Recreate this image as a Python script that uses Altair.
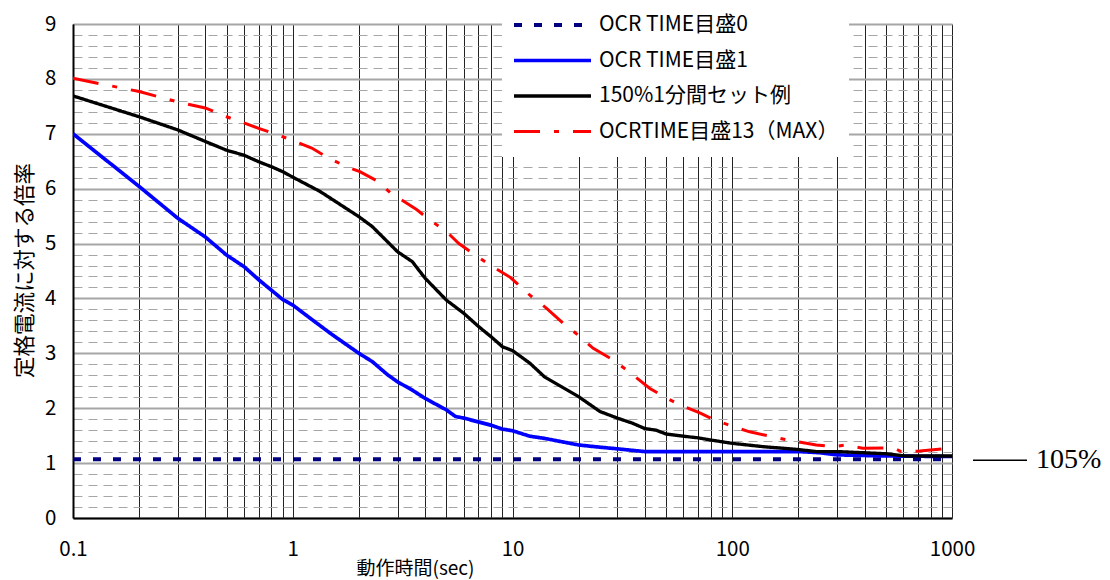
import altair as alt
import pandas as pd

# ---------------- data ----------------
series_names = ["OCR TIME目盛0", "OCR TIME目盛1", "150%1分間セット例", "OCRTIME目盛13（MAX）"]
series_colors = ["#000080", "#0000FF", "#000000", "#FF0000"]

navy_x = [0.1, 1000]
navy_y = [1.07, 1.07]

blue_x = [0.1, 0.2, 0.3, 0.4, 0.5, 0.6, 0.7, 0.8, 0.9, 1.0, 1.2, 1.5, 2.0, 2.3, 2.7, 3.0, 3.5, 4.0,
          5.0, 5.5, 6.0, 8.0, 9.0, 10, 12, 14, 20, 25, 30, 40, 100, 200, 250, 300, 500, 1000]
blue_y = [7.0, 6.04, 5.46, 5.12, 4.79, 4.58, 4.34, 4.15, 3.98, 3.88, 3.64, 3.35, 3.0, 2.85, 2.61, 2.48, 2.33, 2.18,
          1.97, 1.85, 1.82, 1.69, 1.62, 1.59, 1.49, 1.45, 1.33, 1.29, 1.26, 1.21, 1.21, 1.21, 1.19, 1.15, 1.13, 1.12]

black_x = [0.1, 0.2, 0.3, 0.4, 0.5, 0.6, 0.7, 0.8, 0.9, 1.0, 1.33, 2.0, 2.3, 3.0, 3.5, 4.0, 5.0, 6.0, 7.0,
           8.0, 9.0, 10, 12, 14, 20, 25, 30, 35, 40, 45, 50, 60, 70, 80, 100, 138, 197, 241, 301, 392, 504, 612, 1000]
black_y = [7.69, 7.31, 7.07, 6.86, 6.70, 6.61, 6.49, 6.40, 6.31, 6.21, 5.95, 5.49, 5.31, 4.85, 4.67, 4.37, 3.97, 3.73, 3.49,
           3.30, 3.12, 3.05, 2.82, 2.57, 2.21, 1.94, 1.82, 1.73, 1.63, 1.60, 1.53, 1.49, 1.46, 1.42, 1.36, 1.30, 1.25, 1.21, 1.21, 1.19, 1.17, 1.13, 1.13]

red_x = [0.1, 0.2, 0.3, 0.4, 0.5, 0.7, 0.97, 1.22, 1.47, 1.76, 2.02, 2.45, 2.77, 3.66, 4.2, 5.0, 5.7, 6.6, 8.1,
         9.8, 12.0, 14.3, 17.0, 19.5, 23.3, 27.9, 33.0, 42.2, 50.4, 58.0, 71.6, 82.6, 100, 120, 174, 241, 287, 330,
         392, 537, 587, 713, 913, 950]
red_y = [8.01, 7.77, 7.58, 7.47, 7.31, 7.10, 6.90, 6.74, 6.55, 6.40, 6.31, 6.13, 5.93, 5.62, 5.43, 5.22, 5.00, 4.82, 4.58,
         4.38, 4.06, 3.82, 3.55, 3.36, 3.09, 2.91, 2.70, 2.36, 2.18, 2.06, 1.91, 1.79, 1.67, 1.57, 1.43, 1.33, 1.30, 1.33,
         1.27, 1.28, 1.21, 1.22, 1.26, 1.26]

ref_value = 1.05
ref_label = "105%"

x_major = [0.1, 1, 10, 100, 1000]
x_grid = [round(m * d, 4) for d in [0.1, 1, 10, 100] for m in range(1, 10)] + [1000]
y_major = list(range(0, 10))
y_grid = [round(0.2 * i, 1) for i in range(46)]

# ---------------- table ----------------
rows = []
for name, xs, ys in zip(series_names,
                        [navy_x, blue_x, black_x, red_x],
                        [navy_y, blue_y, black_y, red_y]):
    for i, (xv, yv) in enumerate(zip(xs, ys)):
        rows.append({"series": name, "t": xv, "r": yv, "i": i})
df = pd.DataFrame(rows)

WIDTH, HEIGHT = 879, 494
FONT = "Noto Sans CJK JP"

xscale = alt.Scale(type="log", domain=[0.1, 1000], nice=False)
yscale = alt.Scale(domain=[0, 9], nice=False, zero=True)

x_label_expr = "indexof([" + ",".join(str(v) for v in x_major) + "], datum.value) >= 0 ? datum.value + '' : ''"

x_axis = alt.Axis(
    values=x_grid, tickCount=200, labelExpr=x_label_expr, grid=True, gridColor="#222222", gridWidth=1,
    ticks=False, domain=True, domainColor="#000000", domainWidth=2,
    labelFont=FONT, labelFontSize=20.5, labelColor="#000000", labelPadding=21,
    labelFlush=False, labelOverlap=False,
    title="動作時間(sec)", titleFont=FONT, titleFontSize=19, titleFontWeight="normal",
    titleColor="#000000", titleX=342, titleY=50, titleBaseline="middle", titleAnchor="middle",
)

major_test = "datum.value % 1 === 0"
y_axis = alt.Axis(
    values=y_grid, tickCount=200, labelExpr="datum.value % 1 === 0 ? datum.value + '' : ''",
    grid=True, gridColor="#A6A6A6",
    gridDash={"condition": {"test": major_test, "value": []}, "value": [9, 6]},
    gridWidth={"condition": {"test": major_test, "value": 2}, "value": 1},
    ticks=False, domain=True, domainColor="#000000", domainWidth=2,
    labelFont=FONT, labelFontSize=20.5, labelColor="#000000", labelPadding=17,
    labelOverlap=False, labelFlush=False,
    title="定格電流に対する倍率", titleFont=FONT, titleFontSize=21.5, titleFontWeight="normal",
    titleColor="#000000", titleX=-48, titleY=246, titleBaseline="middle", titleAngle=-90,
)

legend = alt.Legend(
    title=None, orient="none", legendX=429, legendY=-24, direction="vertical",
    fillColor="white", padding=10, symbolType="stroke", symbolSize=5929,
    clipHeight=30,
    labelFont=FONT, labelFontSize=21, labelColor="#000000", labelOffset=6,
    rowPadding=5.5, labelLimit=400,
)

lines = alt.Chart(df).mark_line(clip=True).encode(
    x=alt.X("t:Q", scale=xscale, axis=x_axis),
    y=alt.Y("r:Q", scale=yscale, axis=y_axis),
    color=alt.Color("series:N", scale=alt.Scale(domain=series_names, range=series_colors), legend=legend),
    strokeDash=alt.StrokeDash("series:N",
                              scale=alt.Scale(domain=series_names,
                                              range=[[8, 12], [1, 0], [1, 0], [26, 14, 5, 14]]),
                              legend=legend),
    strokeWidth=alt.StrokeWidth("series:N",
                                scale=alt.Scale(domain=series_names, range=[4, 3, 3.5, 5]),
                                legend=legend),
    order="i:Q",
)

ref_df = pd.DataFrame({"r": [ref_value], "label": [ref_label]})
ref_rule = alt.Chart(ref_df).mark_rule(color="#000000", strokeWidth=1.5).encode(
    y=alt.Y("r:Q", scale=yscale),
    x=alt.value(WIDTH + 21),
    x2=alt.value(WIDTH + 75),
)
ref_text = alt.Chart(ref_df).mark_text(
    align="left", baseline="middle", font="Liberation Serif", fontSize=28, color="#000000"
).encode(
    y=alt.Y("r:Q", scale=yscale),
    x=alt.value(WIDTH + 84),
    text="label:N",
)

chart = alt.layer(lines, ref_rule, ref_text).properties(
    width=WIDTH, height=HEIGHT,
    padding={"left": 65, "top": 16, "right": 150, "bottom": 62},
    autosize=alt.AutoSizeParams(type="none"),
).configure_view(strokeWidth=0).configure(background="white")

chart.save("out.html", embed_options={"renderer": "svg", "actions": False})
